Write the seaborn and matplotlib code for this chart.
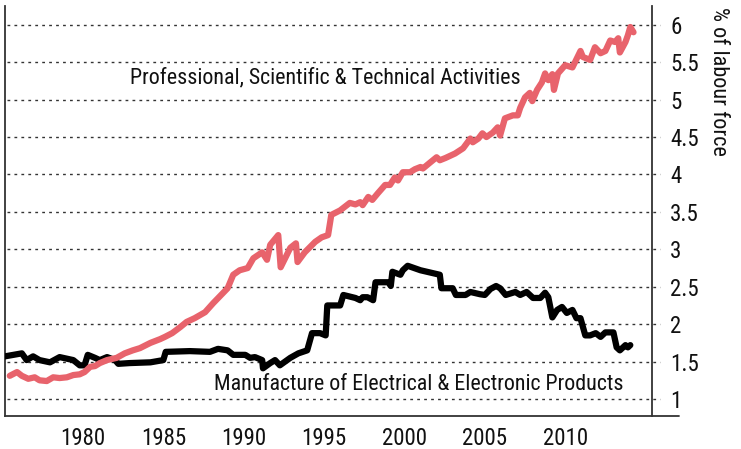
import numpy as np
import matplotlib
matplotlib.use('Agg')
import matplotlib.pyplot as plt
import seaborn as sns

# values (% of labour force)
elec_years = [1975.15, 1976.2, 1976.5, 1976.9, 1977.3, 1977.95, 1978.55, 1979.4, 1979.8, 1980.1,
              1980.3, 1980.75, 1981.05, 1981.5, 1982.0, 1982.2, 1982.9, 1984.2, 1985.0, 1985.15,
              1986.65, 1987.9, 1988.4, 1989.0, 1989.35, 1990.1, 1990.4, 1990.7, 1991.15, 1991.2,
              1991.65, 1991.95, 1992.25, 1992.9, 1993.4, 1993.95, 1994.25, 1994.75, 1995.1, 1995.2,
              1996.0, 1996.2, 1996.95, 1997.25, 1997.4, 1997.7, 1998.05, 1998.2, 1999.0, 1999.15,
              1999.25, 1999.75, 1999.9, 2000.2, 2001.0, 2002.2, 2002.3, 2003.0, 2003.2, 2003.8,
              2004.1, 2004.7, 2005.0, 2005.35, 2005.7, 2005.95, 2006.3, 2006.9, 2007.2, 2007.6,
              2008.0, 2008.45, 2008.75, 2008.95, 2009.2, 2009.5, 2009.8, 2010.1, 2010.45, 2010.7,
              2010.95, 2011.25, 2011.55, 2011.9, 2012.2, 2012.5, 2013.0, 2013.2, 2013.4, 2013.75,
              2013.9, 2014.05]
elec_vals = [1.57, 1.61, 1.52, 1.57, 1.52, 1.49, 1.56, 1.52, 1.45, 1.45,
             1.59, 1.55, 1.52, 1.56, 1.52, 1.47, 1.48, 1.49, 1.52, 1.63,
             1.64, 1.63, 1.67, 1.65, 1.59, 1.59, 1.55, 1.56, 1.52, 1.41,
             1.48, 1.52, 1.45, 1.55, 1.61, 1.65, 1.88, 1.88, 1.85, 2.25,
             2.25, 2.39, 2.35, 2.32, 2.36, 2.36, 2.32, 2.56, 2.56, 2.51,
             2.70, 2.66, 2.72, 2.78, 2.72, 2.66, 2.48, 2.48, 2.39, 2.39,
             2.43, 2.40, 2.39, 2.47, 2.51, 2.48, 2.39, 2.43, 2.39, 2.43,
             2.35, 2.35, 2.42, 2.36, 2.09, 2.19, 2.23, 2.15, 2.19, 2.08,
             2.08, 1.85, 1.85, 1.88, 1.83, 1.89, 1.89, 1.69, 1.65, 1.72,
             1.69, 1.72]

prof_years = [1975.45, 1975.9, 1976.2, 1976.6, 1977.0, 1977.3, 1977.75, 1978.15, 1978.55, 1979.0,
              1979.4, 1979.8, 1980.1, 1980.45, 1980.75, 1981.05, 1981.5, 1982.1, 1982.6, 1983.1,
              1983.55, 1984.2, 1984.8, 1985.1, 1985.55, 1986.05, 1986.45, 1986.95, 1987.6, 1988.1,
              1989.0, 1989.35, 1989.75, 1990.25, 1990.6, 1991.15, 1991.45, 1991.65, 1992.15, 1992.3,
              1992.9, 1993.25, 1993.35, 1993.8, 1994.45, 1994.85, 1995.25, 1995.45, 1996.0, 1996.6,
              1996.95, 1997.25, 1997.4, 1997.75, 1998.0, 1998.35, 1998.8, 1999.1, 1999.4, 1999.6,
              1999.9, 2000.35, 2000.65, 2001.0, 2001.15, 2001.6, 2002.0, 2002.2, 2002.55, 2003.15,
              2003.65, 2004.1, 2004.25, 2004.6, 2004.85, 2005.1, 2005.5, 2005.8, 2005.95, 2006.25,
              2006.75, 2007.05, 2007.2, 2007.5, 2007.8, 2007.95, 2008.25, 2008.55, 2008.75, 2008.95,
              2009.2, 2009.3, 2009.55, 2010.0, 2010.45, 2010.95, 2011.1, 2011.55, 2011.85, 2012.2,
              2012.5, 2012.8, 2013.1, 2013.3, 2013.4, 2013.75, 2013.9, 2014.05, 2014.25]
prof_vals = [1.31, 1.36, 1.31, 1.27, 1.29, 1.25, 1.24, 1.29, 1.28, 1.29,
             1.32, 1.33, 1.36, 1.43, 1.44, 1.48, 1.52, 1.55, 1.61, 1.65,
             1.68, 1.75, 1.80, 1.83, 1.88, 1.96, 2.03, 2.08, 2.16, 2.28,
             2.48, 2.66, 2.72, 2.75, 2.88, 2.96, 2.86, 3.06, 3.19, 2.76,
             3.02, 3.08, 2.83, 2.96, 3.10, 3.16, 3.19, 3.46, 3.52, 3.62,
             3.60, 3.63, 3.59, 3.70, 3.66, 3.75, 3.86, 3.86, 3.96, 3.92,
             4.03, 4.03, 4.07, 4.10, 4.08, 4.16, 4.23, 4.19, 4.22, 4.28,
             4.35, 4.48, 4.43, 4.48, 4.55, 4.50, 4.56, 4.63, 4.52, 4.75,
             4.79, 4.79, 4.89, 5.03, 5.09, 4.98, 5.13, 5.23, 5.35, 5.26,
             5.34, 5.13, 5.35, 5.46, 5.43, 5.65, 5.57, 5.53, 5.70, 5.62,
             5.65, 5.79, 5.77, 5.82, 5.63, 5.77, 5.86, 5.97, 5.90]

yticks = [1, 1.5, 2, 2.5, 3, 3.5, 4, 4.5, 5, 5.5, 6]
xticks = [1980, 1985, 1990, 1995, 2000, 2005, 2010]

sns.set_style('white')
plt.rcParams['font.family'] = ['Liberation Sans Narrow', 'Roboto Condensed', 'Roboto', 'DejaVu Sans']

fig = plt.figure(figsize=(7.41, 4.49), dpi=100)
ax = fig.add_axes([0.0067, 0.0735, 0.8732, 0.913])

red = '#e8636c'
sns.lineplot(x=elec_years, y=elec_vals, ax=ax, color='black', lw=4.5,
             estimator=None, sort=False, zorder=3)
sns.lineplot(x=prof_years, y=prof_vals, ax=ax, color=red, lw=4.5,
             estimator=None, sort=False, zorder=4)

ax.set_xlim(1975.15, 2015.4)
ax.set_ylim(0.773, 6.25)

# dotted gridlines that run a little past the right spine
ax.hlines(yticks, 0.003, 1.013, transform=ax.get_yaxis_transform(),
          colors='#333333', linestyles=(0, (2, 3)), lw=1.0, clip_on=False, zorder=1)

ax.yaxis.tick_right()
ax.set_yticks(yticks)
ax.set_yticklabels([f'{v:g}' for v in yticks])
ax.set_xticks(xticks)
ax.tick_params(axis='y', length=0, pad=13, labelsize=16.5, labelcolor='#111111')
ax.tick_params(axis='x', length=0, pad=8, labelsize=16.5, labelcolor='#111111')

for s in ['left', 'bottom', 'right']:
    ax.spines[s].set_visible(True)
    ax.spines[s].set_color('#333333')
    ax.spines[s].set_linewidth(1.3)
ax.spines['top'].set_visible(False)
ax.plot([1, 1.042], [0, 0], transform=ax.transAxes, color='#333333',
        lw=1.3, clip_on=False)

ax.text(1995.06, 5.29, 'Professional, Scientific & Technical Activities',
        ha='center', va='center', fontsize=15.8, color='#111111')
ax.text(2000.9, 1.19, 'Manufacture of Electrical & Electronic Products',
        ha='center', va='center', fontsize=15.8, color='#111111')

fig.text(0.969, 0.985, '% of labour force', rotation=270, ha='center', va='top',
         fontsize=16, color='#111111')

fig.savefig('out.png', dpi=100)
